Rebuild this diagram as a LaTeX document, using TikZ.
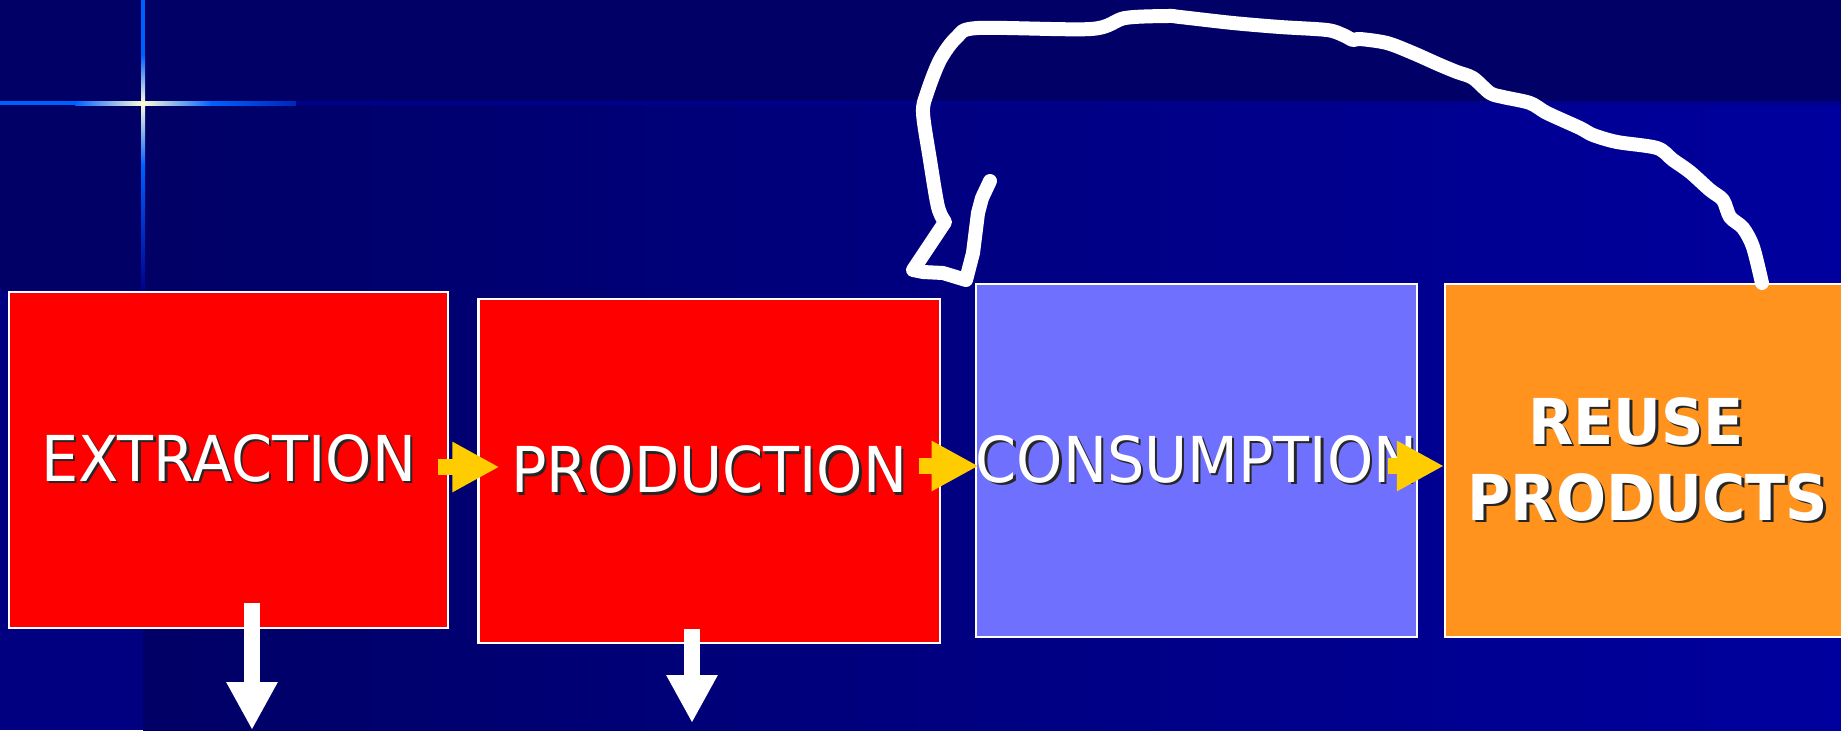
\documentclass[tikz,border=0pt]{standalone}
\usepackage{fontspec}
\usepackage{tikz}
\usetikzlibrary{arrows.meta,positioning,calc}
\newfontfamily\boxfont[FakeStretch=0.93]{DejaVu Sans}
\newcommand{\stagefont}{\boxfont\fontsize{18}{21.6}\selectfont}
\newcommand{\shd}[1]{\makebox[0pt][l]{\kern0.7pt\raisebox{-0.7pt}{\textcolor{black!85}{#1}}}#1}
\definecolor{topnavy}{HTML}{000066}
\definecolor{mainblue}{HTML}{00009E}
\definecolor{leftnavy}{HTML}{000080}
\definecolor{linenavy}{HTML}{00008C}
\definecolor{glowblue}{HTML}{0060FF}
\definecolor{glowpale}{HTML}{FFFFD8}
\definecolor{boxred}{HTML}{FF0000}
\definecolor{boxlilac}{HTML}{7070FF}
\definecolor{boxorange}{HTML}{FF931E}
\definecolor{flowyellow}{HTML}{FFCC00}
\tikzset{
  stage/.style={rectangle, draw=white, line width=0.6pt, fill=#1, text=white,
                font=\stagefont, inner sep=0pt, align=center},
  flow/.style={-{Triangle[length=4.7mm,width=4.7mm]}, line width=1.6mm, draw=flowyellow},
  waste/.style={-{Triangle[length=4.8mm,width=4.8mm]}, line width=1.6mm, draw=white},
  scribble/.style={draw=white, line width=1.4mm, line cap=round, line join=round},
}

\begin{document}
\begin{tikzpicture}
  \useasboundingbox (0,0) rectangle (18.41,-7.30);
  \clip (0,0) rectangle (18.41,-7.30);
  % background
  \fill[topnavy] (0,0) rectangle (18.41,-7.30);
  \shade[left color=topnavy, right color=mainblue] (1.43,-1.03) rectangle (18.41,-7.30);
  \fill[leftnavy] (0,-2.90) rectangle (1.43,-7.30);
  % glowing cross
  \fill[linenavy] (2.96,-1.01) rectangle (18.41,-1.05);
  \fill[glowblue] (0,-1.01) rectangle (0.75,-1.05);
  \shade[left color=glowblue, right color=glowpale] (0.75,-1.01) rectangle (1.43,-1.05);
  \shade[left color=glowpale, right color=glowblue] (1.43,-1.01) rectangle (2.12,-1.05);
  \shade[left color=glowblue, right color=linenavy!60!glowblue] (2.12,-1.01) rectangle (2.96,-1.05);
  \fill[glowblue] (1.41,0) rectangle (1.45,-0.55);
  \shade[top color=glowblue, bottom color=glowpale] (1.41,-0.55) rectangle (1.45,-1.03);
  \shade[top color=glowpale, bottom color=glowblue] (1.41,-1.03) rectangle (1.45,-1.65);
  \shade[top color=glowblue, bottom color=linenavy] (1.41,-1.65) rectangle (1.45,-2.90);

  % stages
  \node[stage=boxred, minimum width=4.387cm, minimum height=3.36cm] (extr) at (2.287,-4.597) {\shd{EXTRACTION}};
  \node[stage=boxred, minimum width=4.615cm, minimum height=3.44cm] (prod) at (7.092,-4.71) {\shd{PRODUCTION}};
  \node[stage=boxlilac, minimum width=4.39cm, minimum height=3.53cm] (cons) at (11.965,-4.605) {\shd{CONSUMPTION}};
  \node[stage=boxorange, font=\stagefont\bfseries, minimum width=4.06cm, minimum height=3.53cm] (reuse) at (16.48,-4.605)
    {\shd{REUSE}\hspace*{2.4mm}\\\shd{PRODUCTS}};

  % flow arrows
  \draw[flow] ([xshift=-1.1mm]extr.east |- 0,-4.67) -- ([xshift=2.2mm]prod.west |- 0,-4.67);
  \draw[flow] ([xshift=-2.2mm]prod.east |- 0,-4.66) -- ([xshift=0.4mm]cons.west |- 0,-4.66);
  \draw[flow] ([xshift=-3.0mm]cons.east |- 0,-4.66) -- (reuse.west |- 0,-4.66);

  % waste arrows
  \coordinate (waste1) at (2.52,-7.30);
  \coordinate (waste2) at (6.92,-7.23);
  \draw[waste] ([yshift=2.6mm]extr.south -| waste1) -- (waste1);
  \draw[waste] ([yshift=1.5mm]prod.south -| waste2) -- (waste2);

  % hand drawn loop back
  \coordinate (loopstart) at ([xshift=3.18cm]reuse.north west);
  \coordinate (loopend) at (9.90,-1.81);
  \draw[scribble] plot[smooth, tension=0.5] coordinates {(loopstart) (17.53,-2.47) (17.43,-2.28) (17.30,-2.17)
      (17.23,-2.00) (17.10,-1.90) (16.90,-1.72) (16.73,-1.60) (16.57,-1.48) (16.17,-1.42) (15.93,-1.35)
      (15.80,-1.28) (15.47,-1.13) (15.30,-1.03) (15.03,-0.97) (14.90,-0.93) (14.73,-0.78) (14.57,-0.72)
      (14.40,-0.65) (14.13,-0.53) (13.87,-0.43) (13.60,-0.39) (13.53,-0.40) (13.43,-0.35) (13.27,-0.30)
      (12.80,-0.27) (12.33,-0.23) (11.80,-0.17) (11.68,-0.16) (11.25,-0.18) (10.91,-0.29) (9.78,-0.28)
      (9.57,-0.37) (9.40,-0.60) (9.27,-0.93) (9.23,-1.13) (9.30,-1.60) (9.38,-2.07) (9.45,-2.22)}
    -- (9.13,-2.70) -- (9.23,-2.72) -- (9.43,-2.73) -- (9.66,-2.80) -- (9.73,-2.53) -- (9.78,-2.13)
    -- (9.82,-1.98) -- (loopend);
\end{tikzpicture}
\end{document}
